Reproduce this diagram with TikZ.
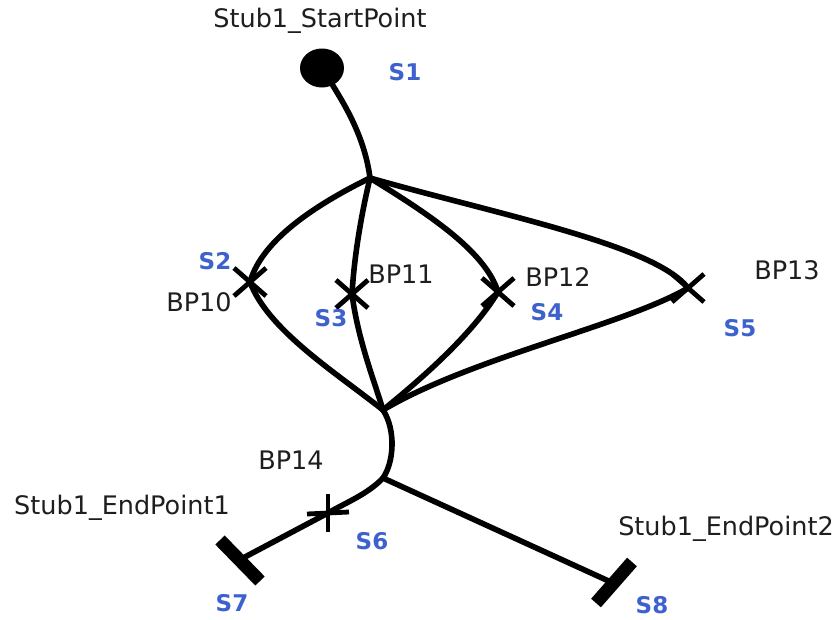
\documentclass[tikz,border=0pt]{standalone}
\usepackage{fontspec}
\setmainfont{DejaVu Sans}
\usetikzlibrary{calc,shapes.geometric}
\definecolor{sblue}{RGB}{62,98,205}
\definecolor{lbl}{RGB}{30,30,30}
\tikzset{
  wire/.style={line width=5.6pt, line cap=round, line join=round, black},
  crossstroke/.style={line width=4.8pt, black},
  barstroke/.style={line width=13pt, black},
  bp/.style={font=\fontsize{25.5}{25.5}\selectfont, text=lbl, inner sep=0pt},
  sid/.style={font=\bfseries\fontsize{23}{23}\selectfont, text=sblue, inner sep=0pt},
}
\begin{document}
\begin{tikzpicture}[x=1pt,y=-1pt]
\useasboundingbox (0,0) rectangle (840,619);
\fill[white] (0,0) rectangle (840,619);
% points
\node[draw=none, fill=black, ellipse, minimum width=44pt, minimum height=39pt, inner sep=0pt] (s1) at (322,68) {};
\coordinate (h1) at (370,178);
\coordinate (x2) at (250,282);
\coordinate (x3) at (352,294);
\coordinate (x4) at (498,292);
\coordinate (x5) at (688,288);
\coordinate (h2) at (383,410);
\coordinate (h3) at (383,478);
\coordinate (x6) at (328,513);
\coordinate (s7) at (243,558);
\coordinate (s8) at (613,583);
% wires
\draw[wire] (s1) .. controls (348,110) and (365,140) .. (h1);
\draw[wire] (h1) .. controls (315,205) and (262,240) .. (x2);
\draw[wire] (h1) .. controls (360,220) and (354,260) .. (x3);
\draw[wire] (h1) .. controls (425,212) and (485,250) .. (x4);
\draw[wire] (h1) .. controls (500,215) and (655,245) .. (x5);
\draw[wire] (x2) .. controls (268,330) and (335,372) .. (h2);
\draw[wire] (x3) .. controls (358,340) and (374,380) .. (h2);
\draw[wire] (x4) .. controls (472,335) and (420,380) .. (h2);
\draw[wire] (x5) .. controls (625,325) and (470,358) .. (h2);
\draw[wire] (h2) .. controls (396,430) and (394,462) .. (h3);
\draw[wire] (h3) .. controls (368,494) and (345,503) .. (x6);
\draw[wire] (x6) -- (s7);
\draw[wire] (h3) -- (s8);
% crosses
\foreach \c in {x2,x3,x4,x5}{
  \draw[crossstroke] ($(\c)+(-16,-14)$) -- ($(\c)+(16,14)$);
  \draw[crossstroke] ($(\c)+(-16,14)$) -- ($(\c)+(16,-14)$);
}
\draw[crossstroke] ($(x6)+(0,-19)$) -- ($(x6)+(0,19)$);
\draw[crossstroke] ($(x6)+(-21,1)$) -- ($(x6)+(21,-1)$);
% end bars
\draw[barstroke] ($(s7)+(-23,-18)$) -- ($(s7)+(17,23)$);
\draw[barstroke] ($(s8)+(19,-21)$) -- ($(s8)+(-17,20)$);
% labels
\node[bp] (tstart) at (320,21) {Stub1\_StartPoint};
\node[sid] (ls1) at (405,72) {S1};
\node[sid] (ls2) at (215,261) {S2};
\node[bp] (tbp10) at (199,302) {BP10};
\node[bp] (tbp11) at (401,274) {BP11};
\node[sid] (ls3) at (331,318) {S3};
\node[bp] (tbp12) at (558,277) {BP12};
\node[sid] (ls4) at (547,312) {S4};
\node[bp] (tbp13) at (787,270) {BP13};
\node[sid] (ls5) at (740,328) {S5};
\node[bp] (tbp14) at (291,460) {BP14};
\node[bp] (tend1) at (122,508) {Stub1\_EndPoint1};
\node[sid] (ls6) at (372,541) {S6};
\node[sid] (ls7) at (232,603) {S7};
\node[bp] (tend2) at (726,529) {Stub1\_EndPoint2};
\node[sid] (ls8) at (652,605) {S8};
\end{tikzpicture}
\end{document}
